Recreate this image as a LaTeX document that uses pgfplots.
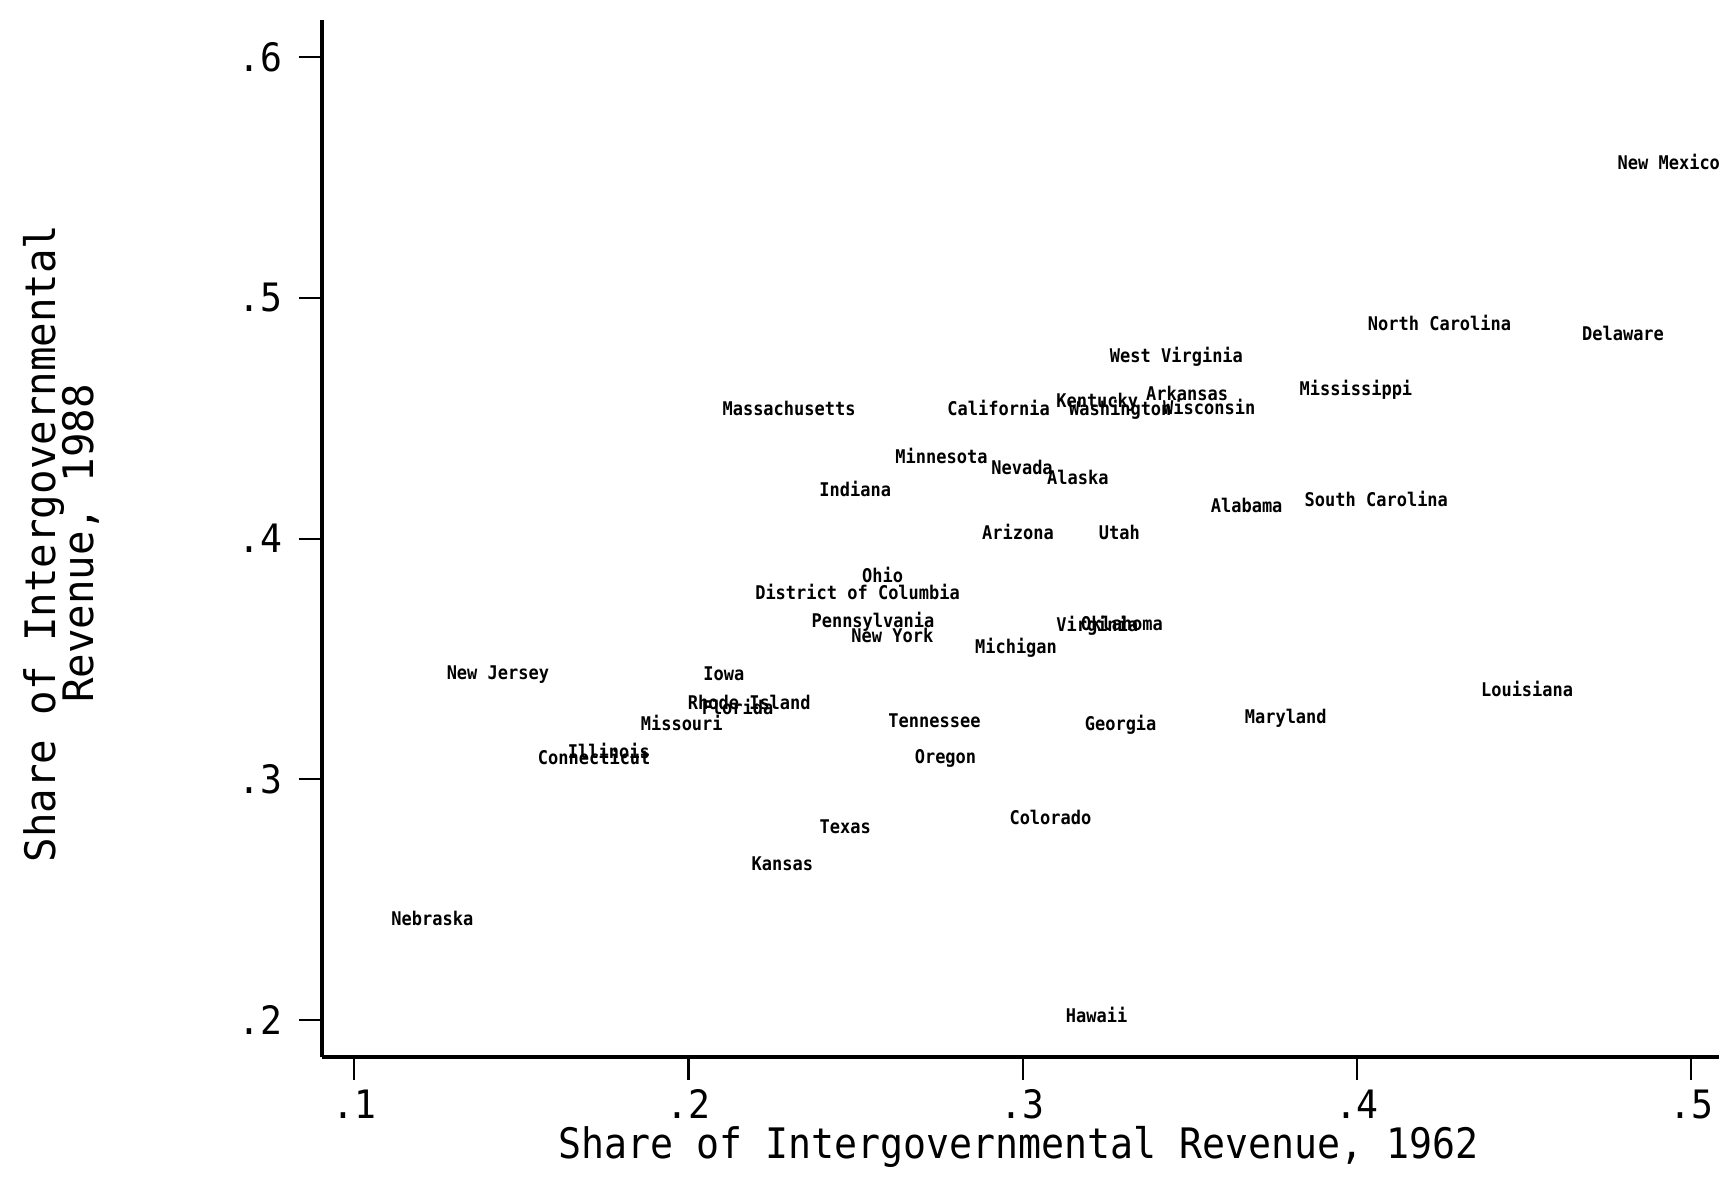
\documentclass[border=0pt]{standalone}
\usepackage{pgfplots}
\pgfplotsset{compat=1.18}
\usepackage{pgfplotstable}
\usepackage{fontspec}
\newfontfamily\monofont[FakeStretch=0.93]{DejaVu Sans Mono}
\newfontfamily\xtitlefont[FakeStretch=0.91]{DejaVu Sans Mono}
\newfontfamily\ytitlefont[FakeStretch=0.97]{DejaVu Sans Mono}
\newfontfamily\labfont[FakeStretch=0.9]{DejaVu Sans Mono}

\pgfplotstableread[col sep=comma]{
x,y,label
0.4933,0.5562,New Mexico
0.4247,0.4894,North Carolina
0.4796,0.4852,Delaware
0.3460,0.4760,West Virginia
0.3997,0.4623,Mississippi
0.2301,0.4541,Massachusetts
0.2928,0.4542,California
0.3223,0.4572,Kentucky
0.3292,0.4542,Washington
0.3492,0.4602,Arkansas
0.3558,0.4544,Wisconsin
0.2757,0.4342,Minnesota
0.2998,0.4293,Nevada
0.3165,0.4252,Alaska
0.2499,0.4204,Indiana
0.3670,0.4137,Alabama
0.4058,0.4160,South Carolina
0.2986,0.4024,Arizona
0.3289,0.4023,Utah
0.2581,0.3846,Ohio
0.2506,0.3775,District of Columbia
0.2552,0.3658,Pennsylvania
0.2610,0.3596,New York
0.2980,0.3550,Michigan
0.3223,0.3643,Virginia
0.3297,0.3645,Oklahoma
0.1430,0.3444,New Jersey
0.2106,0.3438,Iowa
0.2182,0.3317,Rhode Island
0.2147,0.3297,Florida
0.1980,0.3230,Missouri
0.1762,0.3115,Illinois
0.1718,0.3091,Connecticut
0.2736,0.3243,Tennessee
0.3293,0.3230,Georgia
0.3787,0.3260,Maryland
0.4509,0.3374,Louisiana
0.2769,0.3094,Oregon
0.2469,0.2804,Texas
0.3083,0.2842,Colorado
0.2281,0.2649,Kansas
0.1234,0.2423,Nebraska
0.3221,0.2016,Hawaii
}\states

\begin{document}
\begin{tikzpicture}
\begin{axis}[
  scale only axis, width=12.83cm, height=9.463cm,
  xmin=0.0903, xmax=0.5111, ymin=0.1845, ymax=0.6156,
  axis x line*=bottom, axis y line*=left,
  axis line style={line width=1pt},
  xtick={0.1,0.2,0.3,0.4,0.5}, xticklabels={.1,.2,.3,.4,.5},
  ytick={0.2,0.3,0.4,0.5,0.6}, yticklabels={.2,.3,.4,.5,.6},
  tick align=outside, major tick length=0.21cm,
  tick style={line width=0.55pt, black},
  xticklabel style={font=\monofont\fontsize{10.15}{12}\selectfont, inner sep=0pt, anchor=north, yshift=-0.08cm},
  yticklabel style={font=\monofont\fontsize{10.15}{12}\selectfont, inner sep=0pt, anchor=east, xshift=-0.14cm},
  clip=false,
]
\addplot[draw=none, mark=none, nodes near coords={\pgfplotspointmeta}, point meta=explicit symbolic,
  every node near coord/.append style={anchor=base, yshift=-1.8pt, inner sep=0pt,
    font=\labfont\bfseries\fontsize{4.9}{5.9}\selectfont}]
  table[x=x, y=y, meta=label] {\states};
\node[font=\xtitlefont\fontsize{10.9}{13}\selectfont, anchor=base, inner sep=0pt]
  at ([yshift=-0.92cm]axis cs:0.2988,0.1845) {Share of Intergovernmental Revenue, 1962};
\node[rotate=90, anchor=base, inner sep=0pt, font=\ytitlefont\fontsize{10.9}{13}\selectfont]
  at ([xshift=-2.429cm]rel axis cs:0,0.4951) {Share of Intergovernmental};
\node[rotate=90, anchor=base, inner sep=0pt, font=\ytitlefont\fontsize{10.9}{13}\selectfont]
  at ([xshift=-2.078cm]rel axis cs:0,0.4951) {Revenue, 1988};
\end{axis}
\pgfresetboundingbox
\path[use as bounding box] ([xshift=-2.935cm,yshift=-1.097cm]current axis.south west) rectangle ([xshift=-0.085cm,yshift=0.18cm]current axis.north east);
\end{tikzpicture}
\end{document}
